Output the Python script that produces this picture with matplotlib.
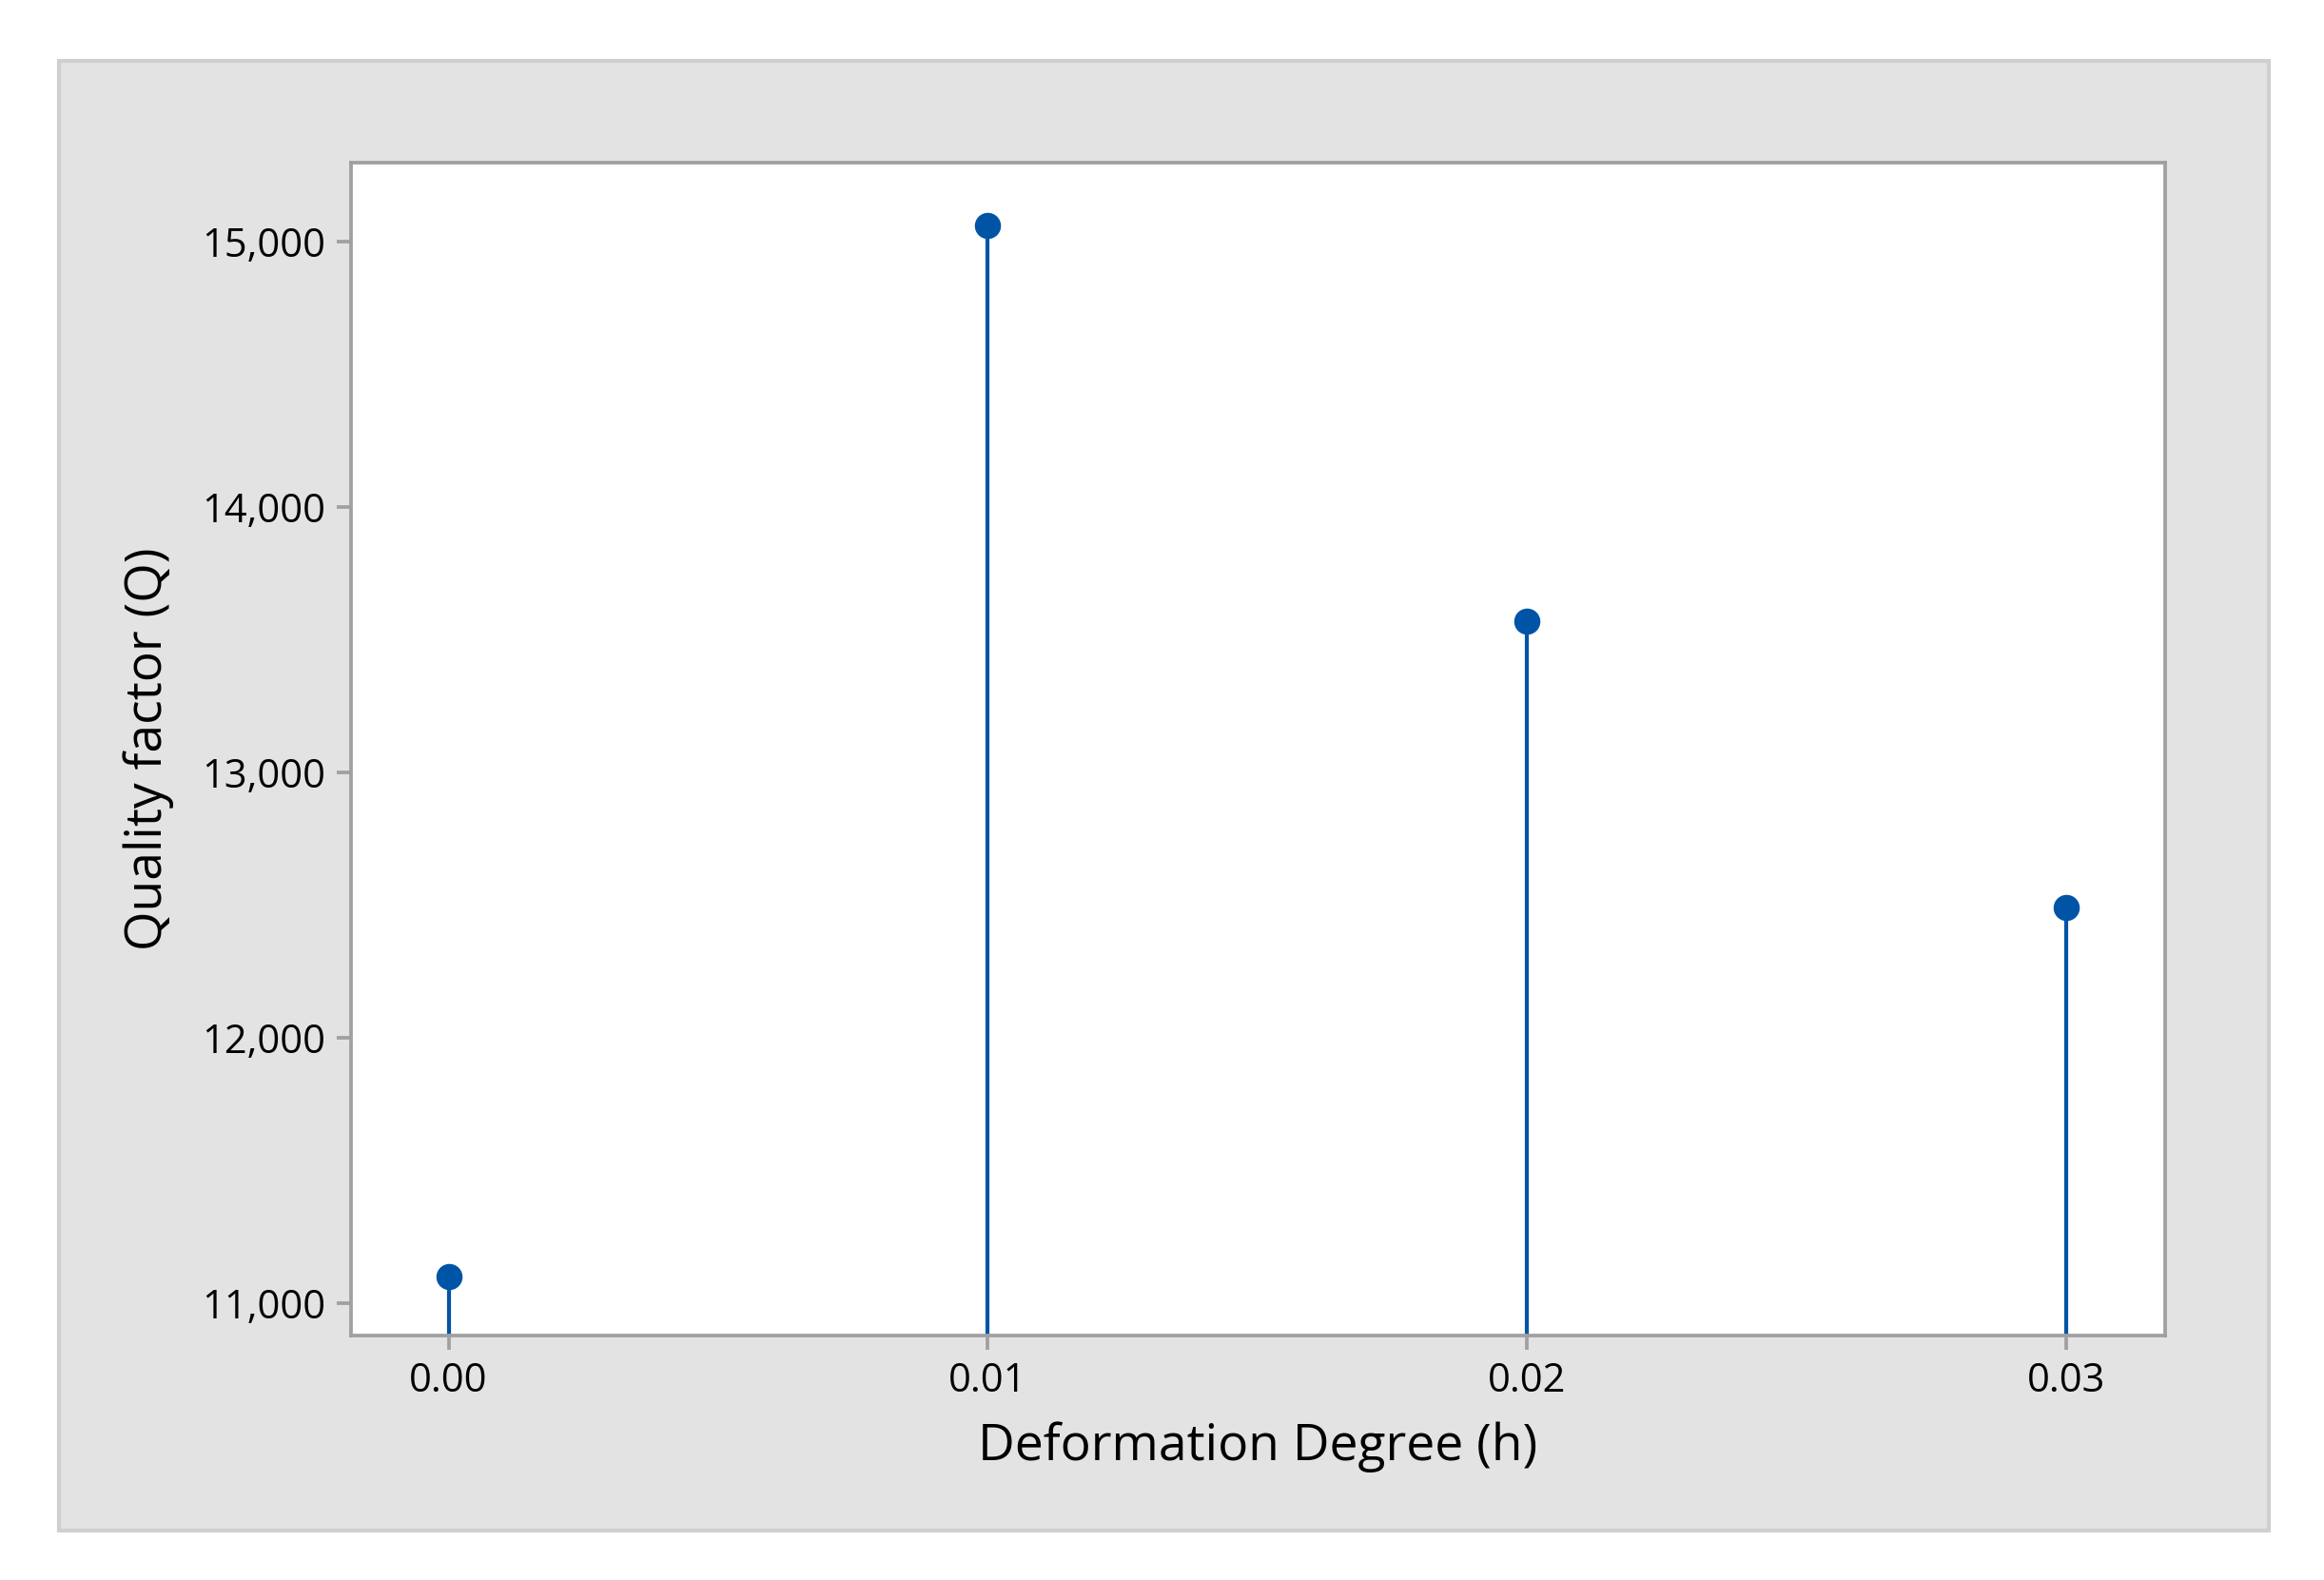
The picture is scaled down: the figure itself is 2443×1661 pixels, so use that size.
import numpy as np
import matplotlib.pyplot as plt
from matplotlib.patches import Rectangle
from matplotlib.ticker import FuncFormatter

plt.rcParams['font.family'] = ['Open Sans', 'DejaVu Sans']
plt.rcParams['font.weight'] = 'medium'

# data
deformation = [0.00, 0.01, 0.02, 0.03]
quality = [11100, 15060, 13570, 12490]
x_ticks = [0.00, 0.01, 0.02, 0.03]
y_ticks = [11000, 12000, 13000, 14000, 15000]

blue = '#0054A6'
spine_gray = '#A0A0A0'

W, H = 2443, 1661
fig = plt.figure(figsize=(W / 300, H / 300), dpi=300)

# grey panel behind the plot
fig.patches.append(Rectangle((62 / W, 1 - 1609 / H), (2385 - 62) / W, (1609 - 64) / H,
                             transform=fig.transFigure, facecolor='#E3E3E3',
                             edgecolor='#CFCFCF', lw=1.0, zorder=-10))

ax = fig.add_axes([369 / W, 1 - 1404 / H, (2276 - 369) / W, (1404 - 171) / H])
ax.set_facecolor('white')
ax.set_xlim(-0.00181, 0.03184)
ax.set_ylim(10877, 15296)

ymin = ax.get_ylim()[0]
ax.vlines(deformation, ymin, quality, color=blue, lw=1.0, zorder=2)
ax.plot(deformation, quality, 'o', color=blue, ms=5.6, zorder=3, clip_on=False)

ax.set_xticks(x_ticks)
ax.set_xticklabels(['%.2f' % v for v in x_ticks])
ax.set_yticks(y_ticks)
ax.yaxis.set_major_formatter(FuncFormatter(lambda v, p: '{:,.0f}'.format(v)))

for s in ax.spines.values():
    s.set_color(spine_gray)
    s.set_linewidth(0.9)
ax.tick_params(axis='both', direction='out', length=3.5, width=0.9,
               color=spine_gray, labelsize=10, labelcolor='black', pad=3)

ax.set_xlabel('Deformation Degree (h)', fontsize=12.8, labelpad=5)
ax.set_ylabel('Quality factor (Q)', fontsize=12.8, labelpad=7)

fig.savefig('out.png', dpi=300)
